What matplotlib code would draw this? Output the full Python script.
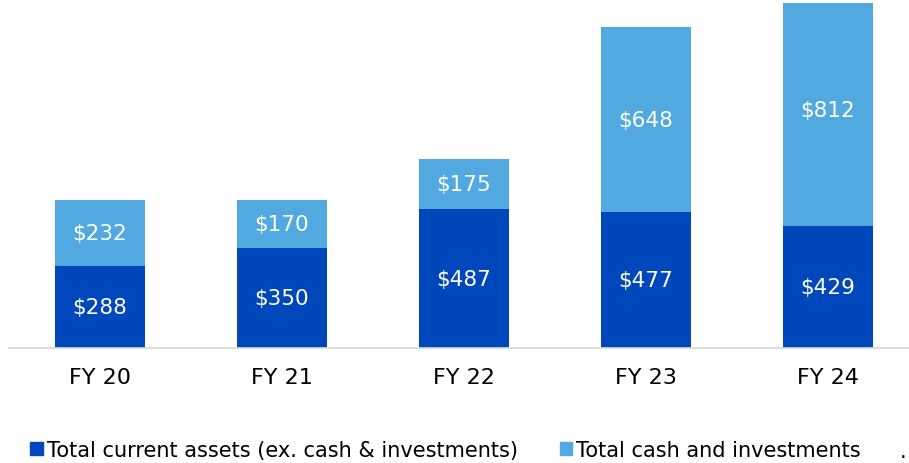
import numpy as np
import matplotlib.pyplot as plt
from matplotlib.patches import Patch

# ------------------------------------------------------------------ data
years = ["FY 20", "FY 21", "FY 22", "FY 23", "FY 24"]
current_assets = [288, 350, 487, 477, 429]
cash_investments = [232, 170, 175, 648, 812]

DARK = "#0047BB"
LIGHT = "#52A9DF"

plt.rcParams["font.family"] = ["DejaVu Sans"]

fig = plt.figure(figsize=(9.09, 4.64), dpi=100)
ax = fig.add_axes([9 / 909, 1 - 349 / 464, 1 - 9 / 909, 345 / 464])

x = np.arange(len(years))
w = 0.495
b1 = ax.bar(x, current_assets, width=w, color=DARK)
b2 = ax.bar(x, cash_investments, width=w, bottom=current_assets, color=LIGHT)

for vals, bottoms in [(current_assets, [0] * 5),
                      (cash_investments, current_assets)]:
    for xi, v, b in zip(x, vals, bottoms):
        ax.text(xi, b + v / 2, f"${v}", ha="center", va="center",
                color="white", fontsize=15.5)

ax.set_xlim(-0.5, -0.5 + 900 / 182)
ax.set_ylim(0, 1210)
ax.set_yticks([])
ax.set_xticks(x)
ax.set_xticklabels(years, fontsize=16)
ax.tick_params(axis="x", length=0, pad=14)
for s in ["top", "right", "left"]:
    ax.spines[s].set_visible(False)
ax.spines["bottom"].set_color("#D9D9D9")
ax.spines["bottom"].set_linewidth(1.2)

handles = [Patch(color=DARK, label="Total current assets (ex. cash & investments)"),
           Patch(color=LIGHT, label="Total cash and investments")]
fig.legend(handles=handles, loc="center left", bbox_to_anchor=(20 / 909, 1 - 451 / 464),
           ncol=2, frameon=False, fontsize=15, handlelength=0.6, handleheight=0.6,
           handletextpad=0.2, columnspacing=2.0, borderpad=0)
fig.text(903 / 909, 1 - 452 / 464, ".", fontsize=15, ha="center", va="center")

fig.savefig("out.png", dpi=100)
